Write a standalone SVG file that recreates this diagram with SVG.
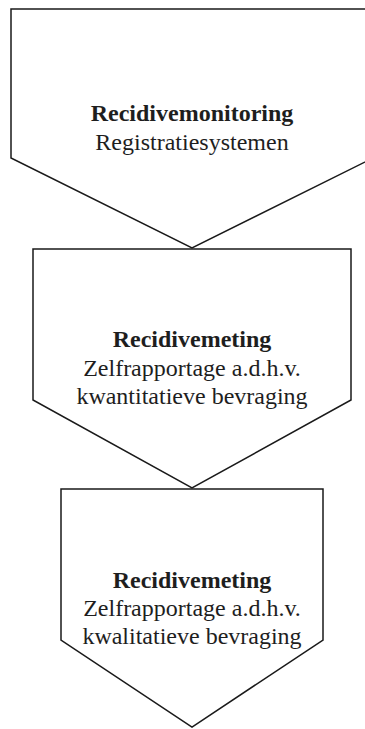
<svg xmlns="http://www.w3.org/2000/svg" width="365" height="729" viewBox="0 0 365 729">
  <style>
    .shape { fill: #ffffff; stroke: #1a1a1a; stroke-width: 1.5; stroke-linejoin: miter; }
    .t { font-family: "Liberation Serif", "Times New Roman", serif; font-size: 24px; fill: #1e1e1e; text-anchor: middle; }
    .b { font-weight: bold; }
  </style>
  <rect width="365" height="729" fill="#ffffff"/>
  <g id="connectors"></g>
  <g id="node1">
    <polygon class="shape" points="11,9 373,9 373,158 192,248 11,158"/>
    <text class="t b" x="192" y="121">Recidivemonitoring</text>
    <text class="t" x="192" y="150">Registratiesystemen</text>
  </g>
  <g id="node2">
    <polygon class="shape" points="33,249 351,249 351,400 192,488 33,400"/>
    <text class="t b" x="192" y="347">Recidivemeting</text>
    <text class="t" x="192" y="375.5">Zelfrapportage a.d.h.v.</text>
    <text class="t" x="192" y="404">kwantitatieve bevraging</text>
  </g>
  <g id="node3">
    <polygon class="shape" points="61,489 323,489 323,640 192,727 61,640"/>
    <text class="t b" x="192" y="587.5">Recidivemeting</text>
    <text class="t" x="192" y="616">Zelfrapportage a.d.h.v.</text>
    <text class="t" x="192" y="644">kwalitatieve bevraging</text>
  </g>
</svg>
